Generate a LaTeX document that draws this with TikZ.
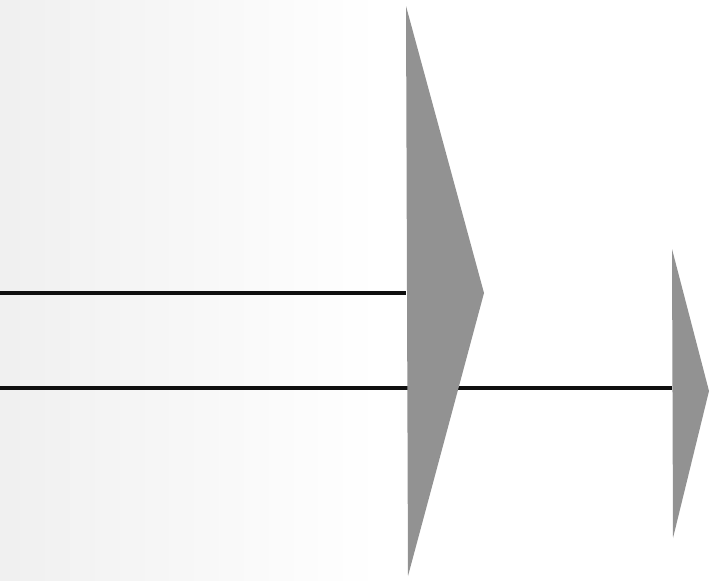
\documentclass[tikz,border=0pt]{standalone}
\usepackage{tikz}
\usetikzlibrary{positioning}
\definecolor{headGray}{RGB}{146,146,146}
\definecolor{lineDark}{RGB}{15,15,15}

\begin{document}
\begin{tikzpicture}[x=1pt, y=-1pt,
    shaft/.style={draw=lineDark, line width=4.5pt},
    head/.style={fill=headGray, draw=none}
]
\useasboundingbox (0,0) rectangle (713,581);
% faint background
\shade[left color=black!6, right color=white, draw=none] (0,0) rectangle (380,581);
% anchor points
\coordinate (startA) at (0,293);
\coordinate (startB) at (0,388);
\coordinate (bigTop) at (406,6);
\coordinate (bigTip) at (484,293);
\coordinate (bigBot) at (408,576);
\coordinate (smallTop) at (672,249);
\coordinate (smallTip) at (709,391);
\coordinate (smallBot) at (673,538);
% shafts
\draw[shaft] (startA) -- (startA -| bigTop);
\draw[shaft] (startB) -- (startB -| smallTop);
% heads
\fill[head] (bigTop) -- (bigTip) -- (bigBot) -- cycle;
\fill[head] (smallTop) -- (smallTip) -- (smallBot) -- cycle;
\end{tikzpicture}
\end{document}
